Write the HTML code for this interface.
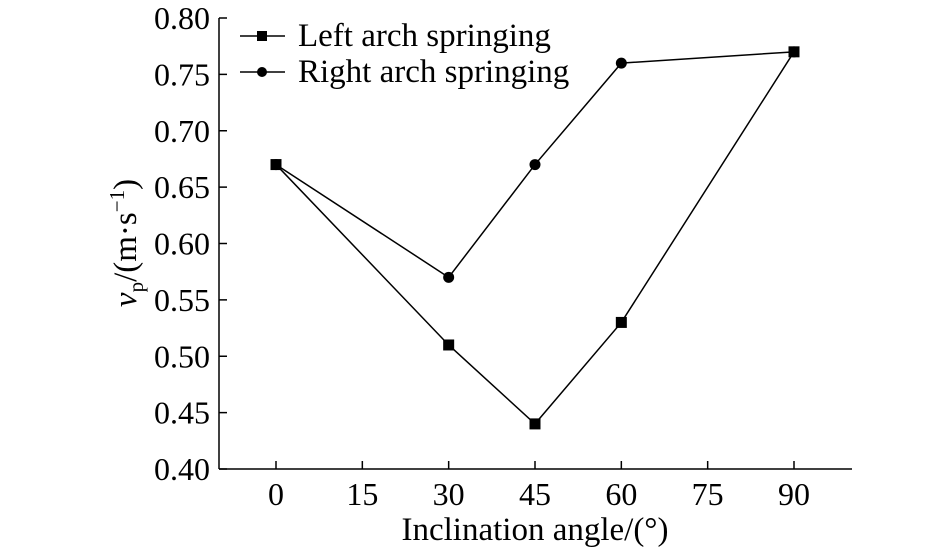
<!DOCTYPE html>
<html><head><meta charset="utf-8"><style>
body{margin:0;background:#fff;}
svg text{font-family:"Liberation Serif",serif;fill:#000;}
</style></head><body>
<svg width="945" height="551" xmlns="http://www.w3.org/2000/svg">
<g id="axes"></g>
<g id="marks"></g>
<g>
  <line x1="240" y1="36" x2="285" y2="36" stroke="#000" stroke-width="1.5"/>
  <rect x="257" y="31" width="10" height="10" fill="#000"/>
  <text x="298" y="46" font-size="33">Left arch springing</text>
  <line x1="240" y1="72" x2="285" y2="72" stroke="#000" stroke-width="1.5"/>
  <circle cx="262" cy="72" r="5" fill="#000"/>
  <text x="298" y="82" font-size="33">Right arch springing</text>
</g>
<text x="535" y="540" font-size="33" text-anchor="middle">Inclination angle/(°)</text>
<text transform="translate(136,243) rotate(-90)" font-size="33" text-anchor="middle"><tspan font-style="italic">v</tspan><tspan font-size="21" dy="7">p</tspan><tspan dy="-7">/(m·s</tspan><tspan font-size="21" dy="-12">−1</tspan><tspan dy="12">)</tspan></text>
</svg>
<script>
const xCategories=[0,30,45,60,90];
const leftValues=[0.67,0.51,0.44,0.53,0.77];
const rightValues=[0.67,0.57,0.67,0.76,0.77];
const xTicks=[0,15,30,45,60,75,90];
const yTicks=[0.40,0.45,0.50,0.55,0.60,0.65,0.70,0.75,0.80];
const NS="http://www.w3.org/2000/svg";
const X0=219,XR=852,Y0=469,YT=18;
function xs(v){return 276+(v-0)*(794-276)/90;}
function ys(v){return Y0-(v-0.40)*(Y0-YT)/0.40;}
function mk(t,a,p){const e=document.createElementNS(NS,t);for(const k in a)e.setAttribute(k,a[k]);p.appendChild(e);return e;}
const ax=document.getElementById('axes'),mg=document.getElementById('marks');
let l=mk('line',{x1:X0,y1:YT,x2:X0,y2:Y0,stroke:'#000','stroke-width':1.5},ax);


l=mk('line',{x1:X0,y1:Y0,x2:XR,y2:Y0,stroke:'#000','stroke-width':1.5},ax);


xTicks.forEach(v=>{
  mk('line',{x1:xs(v),y1:Y0,x2:xs(v),y2:Y0-8,stroke:'#000','stroke-width':1.5},ax);
  const t=mk('text',{x:xs(v),y:Y0+36,'font-size':32,'text-anchor':'middle'},ax);
  t.textContent=v;
  
  
});
yTicks.forEach(v=>{
  mk('line',{x1:X0,y1:ys(v),x2:X0+8,y2:ys(v),stroke:'#000','stroke-width':1.5},ax);
  const t=mk('text',{x:X0-9,y:ys(v)+11,'font-size':32,'text-anchor':'end'},ax);
  t.textContent=v.toFixed(2);
  
  
});
function series(vals,name,sq){
  const pts=vals.map((v,i)=>xs(xCategories[i])+','+ys(v)).join(' ');
  const p=mk('polyline',{points:pts,fill:'none',stroke:'#000','stroke-width':1.5},mg);
  
  
  vals.forEach((v,i)=>{
    let m;
    if(sq) m=mk('rect',{x:xs(xCategories[i])-5.5,y:ys(v)-5.5,width:11,height:11,fill:'#000'},mg);
    else m=mk('circle',{cx:xs(xCategories[i]),cy:ys(v),r:5.5,fill:'#000'},mg);
    
    
  });
}
series(leftValues,'left-arch',true);
series(rightValues,'right-arch',false);
</script>
</body></html>
